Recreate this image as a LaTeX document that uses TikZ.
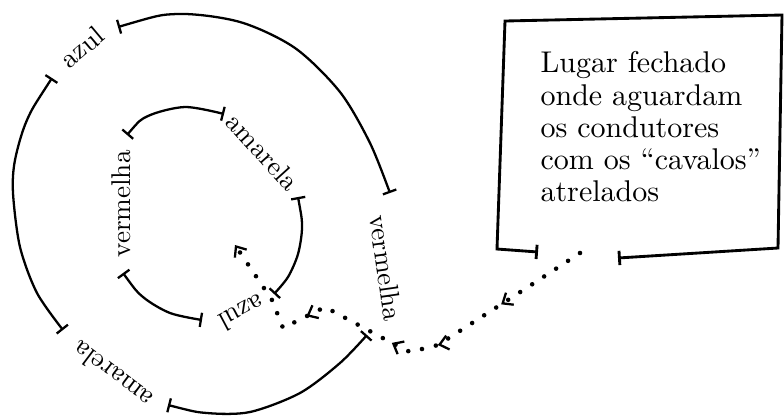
\documentclass[tikz,border=0pt]{standalone}
\usepackage{tikz}
\usetikzlibrary{arrows.meta,decorations.markings}

\tikzset{
  ring/.style={line width=0.8pt,{Bar[width=5pt,line width=0.8pt]}-{Bar[width=5pt,line width=0.8pt]}},
  frame/.style={line width=1pt,{Bar[width=5pt]}-{Bar[width=5pt]}},
  lbl/.style={font=\fontsize{9.5}{10}\selectfont,inner sep=0pt},
  chev/.style={solid},
  trail/.style={line width=1.6pt,line cap=round,dash pattern=on 0pt off 5pt,
    -{Straight Barb[length=3pt,width=5pt,line width=0.8pt]},
    postaction={decorate},
    decoration={markings,
      mark=at position 0.215 with {\arrow[chev]{Straight Barb[length=3pt,width=5pt,line width=0.8pt]}},
      mark=at position 0.387 with {\arrow[chev]{Straight Barb[length=3pt,width=5pt,line width=0.8pt]}},
      mark=at position 0.499 with {\arrow[chev]{Straight Barb[length=3pt,width=5pt,line width=0.8pt]}},
      mark=at position 0.72 with {\arrow[chev]{Straight Barb[length=3pt,width=5pt,line width=0.8pt]}}}}
}

\begin{document}
\begin{tikzpicture}[x=0.35pt,y=-0.35pt]
  \useasboundingbox (0,0) rectangle (784,418);
  % outer ring
  \draw[ring] plot[smooth] coordinates {(118,27) (177,14) (240,22) (295,48) (340,92) (370,143) (390,193)};
  \draw[ring] plot[smooth] coordinates {(52,78) (27,120) (15,160) (13,193) (20,247) (37,293) (63,330)};
  \draw[ring] plot[smooth] coordinates {(168,405) (207,413) (250,412) (300,393) (340,363) (367,335)};
  \node[lbl,rotate=40] (azulfora) at (82,47) {azul};
  \node[lbl,rotate=-82] (vermfora) at (386,268) {vermelha};
  \node[lbl,rotate=143] (amarfora) at (112,375) {amarela};
  % inner ring
  \draw[ring] plot[smooth] coordinates {(127,135) (148,116) (185,107) (224,114)};
  \draw[ring] plot[smooth] coordinates {(298,197) (302,227) (298,254) (288,277) (274,294)};
  \draw[ring] plot[smooth] coordinates {(123,273) (143,297) (170,313) (202,320)};
  \node[lbl,rotate=90] (vermdentro) at (121,204) {vermelha};
  \node[lbl,rotate=-48] (amardentro) at (263,152) {amarela};
  \node[lbl,rotate=-152] (azuldentro) at (242,313) {azul};
  % box
  \node[anchor=north west,inner sep=0pt,align=left,font=\fontsize{10.5}{11.3}\selectfont] (lugar) at (540,51)
    {Lugar fechado\\onde aguardam\\os condutores\\com os ``cavalos''\\atrelados};
  \draw[frame] (538,252) -- (497,249) -- (505,21) -- (782,15) -- (778,248) -- (618,258);
  % dotted way
  \coordinate (gap) at (580,253);
  \coordinate (alvo) at (235,245);
  \draw[trail] (gap) -- (528,287) -- (438,345) -- (410,352) -- (392,343) -- (325,307)
    -- (283,328) -- (272,300) -- (alvo);
\end{tikzpicture}
\end{document}
